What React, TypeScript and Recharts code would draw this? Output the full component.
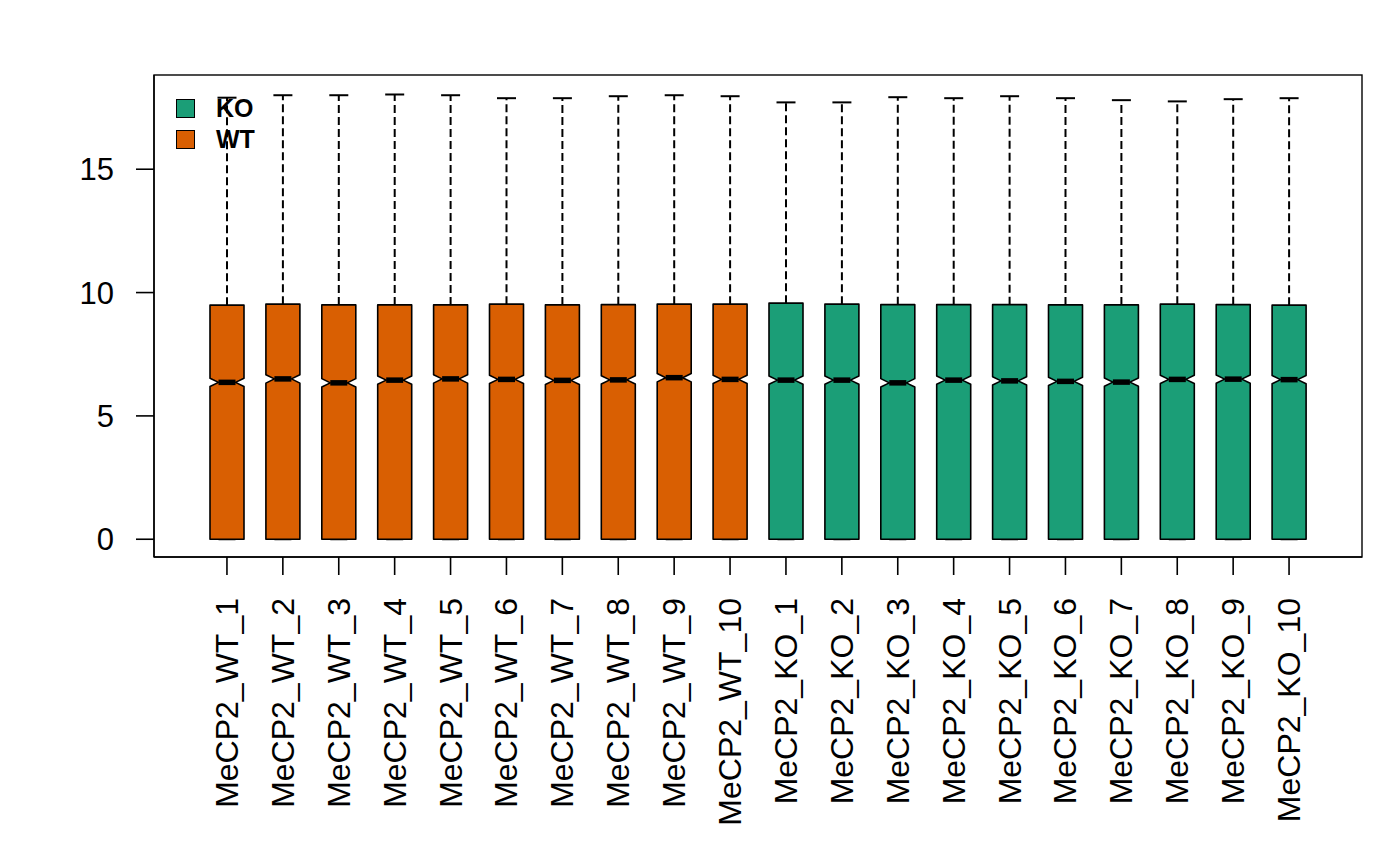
import React from "react";
import { ComposedChart, Bar, XAxis, YAxis } from "recharts";

const samples = [
  "MeCP2_WT_1", "MeCP2_WT_2", "MeCP2_WT_3", "MeCP2_WT_4", "MeCP2_WT_5",
  "MeCP2_WT_6", "MeCP2_WT_7", "MeCP2_WT_8", "MeCP2_WT_9", "MeCP2_WT_10",
  "MeCP2_KO_1", "MeCP2_KO_2", "MeCP2_KO_3", "MeCP2_KO_4", "MeCP2_KO_5",
  "MeCP2_KO_6", "MeCP2_KO_7", "MeCP2_KO_8", "MeCP2_KO_9", "MeCP2_KO_10",
];
const groups = [
  "WT", "WT", "WT", "WT", "WT", "WT", "WT", "WT", "WT", "WT",
  "KO", "KO", "KO", "KO", "KO", "KO", "KO", "KO", "KO", "KO",
];
const lowerWhisker = [0, 0, 0, 0, 0, 0, 0, 0, 0, 0, 0, 0, 0, 0, 0, 0, 0, 0, 0, 0];
const q1 = [0, 0, 0, 0, 0, 0, 0, 0, 0, 0, 0, 0, 0, 0, 0, 0, 0, 0, 0, 0];
const medians = [
  6.36, 6.5, 6.34, 6.45, 6.5, 6.48, 6.44, 6.46, 6.55, 6.48,
  6.45, 6.45, 6.34, 6.45, 6.42, 6.4, 6.37, 6.48, 6.49, 6.47,
];
const q3 = [
  9.49, 9.53, 9.5, 9.5, 9.5, 9.53, 9.5, 9.51, 9.53, 9.53,
  9.57, 9.53, 9.51, 9.51, 9.51, 9.5, 9.5, 9.53, 9.51, 9.49,
];
const upperWhisker = [
  17.9, 18.0, 18.0, 18.03, 18.0, 17.88, 17.88, 17.96, 18.0, 17.96,
  17.71, 17.71, 17.92, 17.88, 17.96, 17.88, 17.8, 17.75, 17.84, 17.88,
];
// half height of the notch around each median
const notchHalf = 0.17;

const COLORS: Record<string, string> = { KO: "#1B9E77", WT: "#D95F02" };
const legendItems = ["KO", "WT"];
const yTicks = [0, 5, 10, 15];

const data = samples.map((name, i) => ({
  name,
  group: groups[i],
  box: [q1[i], q3[i]],
  lo: lowerWhisker[i],
  q1: q1[i],
  med: medians[i],
  q3: q3[i],
  hi: upperWhisker[i],
}));

const FONT = "'Liberation Sans', Arial, sans-serif";

const BoxShape = (props: any) => {
  const { x, y, width, height, payload } = props;
  if (!payload || !height) return null;
  const ppu = height / (payload.q3 - payload.q1);
  const yOf = (v: number) => y + (payload.q3 - v) * ppu;
  const cx = x + width / 2;
  const hw = width / 2;
  const fill = COLORS[payload.group];
  const yMed = yOf(payload.med);
  const yNlo = yOf(payload.med - notchHalf);
  const yNhi = yOf(payload.med + notchHalf);
  const yQ1 = yOf(payload.q1);
  const yQ3 = yOf(payload.q3);
  const pts = [
    [cx - hw, yQ1],
    [cx - hw, yNlo],
    [cx - hw / 2, yMed],
    [cx - hw, yNhi],
    [cx - hw, yQ3],
    [cx + hw, yQ3],
    [cx + hw, yNhi],
    [cx + hw / 2, yMed],
    [cx + hw, yNlo],
    [cx + hw, yQ1],
  ]
    .map((p) => p.join(","))
    .join(" ");
  return (
    <g>
      <line x1={cx} x2={cx} y1={yQ3} y2={yOf(payload.hi)} stroke="#000" strokeWidth={2} strokeDasharray="8 4" />
      <line x1={cx - hw / 2 - 1} x2={cx + hw / 2 + 1} y1={yOf(payload.hi)} y2={yOf(payload.hi)} stroke="#000" strokeWidth={2} />
      <line x1={cx - hw / 2} x2={cx + hw / 2} y1={yOf(payload.lo)} y2={yOf(payload.lo)} stroke="#000" strokeWidth={2} />
      <polygon points={pts} fill={fill} stroke="#000" strokeWidth={1.6} strokeLinejoin="round" />
      <line x1={cx - hw / 2} x2={cx + hw / 2} y1={yMed} y2={yMed} stroke="#000" strokeWidth={5.5} />
    </g>
  );
};

const XTick = (props: any) => {
  const { x, y, payload } = props;
  return (
    <text
      transform={`translate(${x},${y + 21}) rotate(-90)`}
      textAnchor="end"
      dominantBaseline="central"
      fontSize={32}
      fontFamily={FONT}
      fill="#000"
    >
      {payload.value}
    </text>
  );
};

export default function App() {
  return (
    <div style={{ position: "absolute", left: 0, top: 0, width: 1400, height: 865, background: "#fff" }}>
      <ComposedChart
        width={1400}
        height={865}
        data={data}
        margin={{ top: 75, left: 54, right: 38, bottom: 18 }}
        barSize={34}
      >
        <XAxis
          dataKey="name"
          type="category"
          interval={0}
          height={290}
          padding={{ left: 45, right: 45 }}
          axisLine={{ stroke: "#000", strokeWidth: 1.4 }}
          tickLine={{ stroke: "#000", strokeWidth: 1.6 }}
          tickSize={18}
          tick={<XTick />}
        />
        <YAxis
          type="number"
          domain={[-0.72, 18.82]}
          ticks={yTicks}
          allowDataOverflow
          width={100}
          axisLine={{ stroke: "#000", strokeWidth: 1.4 }}
          tickLine={{ stroke: "#000", strokeWidth: 1.6 }}
          tickSize={18}
          tickMargin={22}
          tick={{ fontSize: 31, fontFamily: FONT, fill: "#000" }}
        />
        <Bar dataKey="box" shape={<BoxShape />} isAnimationActive={false} />
      </ComposedChart>
      {/* plot frame */}
      <svg
        width={1400}
        height={865}
        style={{ position: "absolute", left: 0, top: 0, pointerEvents: "none" }}
      >
        <rect x={154} y={75} width={1208} height={482} fill="none" stroke="#000" strokeWidth={1.4} />
      </svg>
      <div style={{ position: "absolute", left: 176, top: 93, fontFamily: FONT }}>
        {legendItems.map((g) => (
          <div key={g} style={{ display: "flex", alignItems: "center", height: 31 }}>
            <div
              style={{
                width: 17,
                height: 17,
                background: COLORS[g],
                border: "1.5px solid #000",
                marginRight: 21,
              }}
            />
            <span style={{ fontSize: 25, fontWeight: "bold", color: "#000" }}>{g}</span>
          </div>
        ))}
      </div>
    </div>
  );
}
